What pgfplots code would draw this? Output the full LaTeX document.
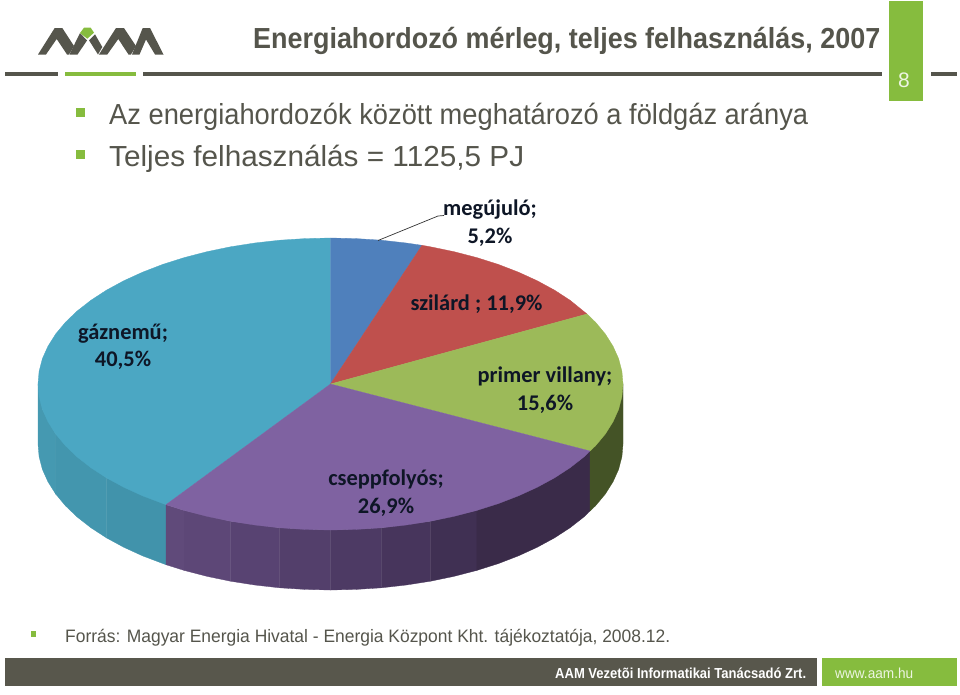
\documentclass[border=0pt]{standalone}
\usepackage{pgfplots}
\pgfplotsset{compat=1.18}
\usepackage{fontspec}
\setmainfont{Liberation Sans}
\newfontfamily\carlito{Carlito}
\definecolor{ink}{HTML}{55554C}
\definecolor{bar}{HTML}{58574C}
\definecolor{lime}{HTML}{86BC3E}
\definecolor{ctop}{HTML}{4BA7C3}
\definecolor{btop}{HTML}{4F80BC}
\definecolor{rtop}{HTML}{BF504D}
\definecolor{gtop}{HTML}{9CBA59}
\definecolor{ptop}{HTML}{7F62A1}
\definecolor{cs1}{HTML}{4599B1}
\definecolor{cs2}{HTML}{4396AE}
\definecolor{cs3}{HTML}{4193AB}
\definecolor{gs}{HTML}{445326}
\definecolor{p1}{HTML}{604A7A}
\definecolor{p2}{HTML}{5D4777}
\definecolor{p3}{HTML}{584372}
\definecolor{p4}{HTML}{533F6B}
\definecolor{p5}{HTML}{4D3A64}
\definecolor{p6}{HTML}{47355C}
\definecolor{p7}{HTML}{403053}
\definecolor{p8}{HTML}{3A2B49}
\definecolor{lab}{HTML}{0E1626}
\newcommand\txt[5]{\node[anchor=base west,inner sep=0pt,text=#4] at (axis cs:#1,#2) {\fontsize{#3}{#3}\selectfont #5};}
\newcommand\lbl[4]{\node[anchor=base,inner sep=0pt,text=lab] at (axis cs:#1,#2) {\carlito\bfseries\fontsize{#3}{#3}\selectfont #4};}
\begin{document}
\begin{tikzpicture}
\begin{axis}[at={(0,0)},anchor=south west,width=960pt,height=694pt,scale only axis,
  xmin=0,xmax=960,ymin=0,ymax=694,y dir=reverse,hide axis,clip=false]
% page background
\addplot[fill=white,draw=none] coordinates {(0,0)(960,0)(960,694)(0,694)} -- cycle;
% header rules
\addplot[fill=ink,draw=none] coordinates {(5,71.5)(58,71.5)(58,76)(5,76)} -- cycle;
\addplot[fill=lime,draw=none] coordinates {(65,71.5)(136,71.5)(136,76)(65,76)} -- cycle;
\addplot[fill=ink,draw=none] coordinates {(143,71.5)(882,71.5)(882,76)(143,76)} -- cycle;
\addplot[fill=ink,draw=none] coordinates {(931,71.5)(957,71.5)(957,76)(931,76)} -- cycle;
\addplot[fill=lime,draw=none] coordinates {(888.7,1)(923.3,1)(923.3,100.5)(888.7,100.5)} -- cycle;
% logo
\addplot[fill=ink,draw=none] coordinates {(38,54.5)(46,54.5)(56.7,39)(67,54.5)(69,54.5)(74,46)(62.3,28)(54.7,28)} -- cycle;
\addplot[fill=ink,draw=none] coordinates {(69.5,54.5)(77.5,54.5)(87,40.5)(80,33)} -- cycle;
\addplot[fill=lime,draw=none] coordinates {(80,33)(84,27.7)(90.7,27.7)(94,32.7)(87.3,38.7)} -- cycle;
\addplot[fill=ink,draw=none] coordinates {(89,40.3)(98,54.5)(102.3,47)(95,34.3)} -- cycle;
\addplot[fill=ink,draw=none] coordinates {(99,54.5)(107.3,54.5)(118.3,39)(128.5,54.5)(131,54.5)(136,46)(124,28)(116,28)} -- cycle;
\addplot[fill=ink,draw=none] coordinates {(132,54.5)(139.5,54.5)(146,39.5)(155,54.5)(163.5,54.5)(150,28)(142.7,28)} -- cycle;
% bullets
\addplot[fill=lime,draw=none] coordinates {(76,108)(85,108)(85,117)(76,117)} -- cycle;
\addplot[fill=lime,draw=none] coordinates {(76,150)(85,150)(85,159)(76,159)} -- cycle;
\addplot[fill=lime,draw=none] coordinates {(31,631)(36,631)(36,637)(31,637)} -- cycle;
% footer bars
\addplot[fill=bar,draw=none] coordinates {(5,658)(817,658)(817,686)(5,686)} -- cycle;
\addplot[fill=lime,draw=none] coordinates {(822,658)(957,658)(957,686)(822,686)} -- cycle;
% pie sides: teal
\addplot[fill=cs1,draw=cs1,line width=.3pt] coordinates {(38,384)(42.4,409.4)(55.6,433.9)(55.6,493.9)(48,481.8)(42.4,469.4)(39.1,456.7)(38,444)} -- cycle;
\addplot[fill=cs2,draw=cs2,line width=.3pt] coordinates {(55.6,433.9)(106.4,477.8)(106.4,537.8)(90.9,527.7)(77.2,517)(65.4,505.7)(55.6,493.9)} -- cycle;
\addplot[fill=cs3,draw=cs3,line width=.3pt] coordinates {(106.4,477.8)(166,504.7)(166,564.7)(142.5,555.8)(123.7,547.2)(106.4,537.8)} -- cycle;
% pie sides: purple
\addplot[fill=p1,draw=p1,line width=.3pt] coordinates {(166,504.7)(184.2,510.4)(184.2,570.4)(166,564.7)} -- cycle;
\addplot[fill=p2,draw=p2,line width=.3pt] coordinates {(184.2,510.4)(230.5,521.2)(230.5,581.2)(206.9,576.3)(184.2,570.4)} -- cycle;
\addplot[fill=p3,draw=p3,line width=.3pt] coordinates {(230.5,521.2)(279.7,527.8)(279.7,587.8)(254.8,585)(230.5,581.2)} -- cycle;
\addplot[fill=p4,draw=p4,line width=.3pt] coordinates {(279.7,527.8)(330.5,530)(330.5,590)(305,589.4)(279.7,587.8)} -- cycle;
\addplot[fill=p5,draw=p5,line width=.3pt] coordinates {(330.5,530)(381.3,527.8)(381.3,587.8)(356,589.4)(330.5,590)} -- cycle;
\addplot[fill=p6,draw=p6,line width=.3pt] coordinates {(381.3,527.8)(430.5,521.2)(430.5,581.2)(406.2,585)(381.3,587.8)} -- cycle;
\addplot[fill=p7,draw=p7,line width=.3pt] coordinates {(430.5,521.2)(476.8,510.4)(476.8,570.4)(454.1,576.3)(430.5,581.2)} -- cycle;
\addplot[fill=p8,draw=p8,line width=.3pt] coordinates {(476.8,510.4)(590,451)(590,511)(583.8,517)(570.1,527.7)(554.6,537.8)(537.3,547.2)(518.5,555.8)(498.3,563.6)(476.8,570.4)} -- cycle;
% pie sides: green
\addplot[fill=gs,draw=gs,line width=.3pt] coordinates {(590,451)(623,384)(623,444)(621.9,456.7)(618.6,469.4)(613,481.8)(605.4,493.9)(595.6,505.7)(590,511)} -- cycle;
% pie top: gaznemu
\addplot[fill=ctop,draw=ctop,line width=.3pt] coordinates {(330.5,384)(166,504.7)(142.5,495.8)(123.7,487.2)(106.4,477.8)(90.9,467.7)(77.2,457)(65.4,445.7)(55.6,433.9)(48,421.8)(42.4,409.4)(39.1,396.7)(38,384)(39.1,371.3)(42.4,358.6)(48,346.2)(55.6,334.1)(65.4,322.3)(77.2,311)(90.9,300.3)(106.4,290.2)(123.7,280.8)(142.5,272.2)(162.7,264.4)(184.2,257.6)(206.9,251.7)(230.5,246.8)(254.8,243)(279.7,240.2)(305,238.6)(330.5,238)} -- cycle;
% pie top: megujulo
\addplot[fill=btop,draw=btop,line width=.3pt] coordinates {(330.5,384)(330.5,238)(356,238.6)(381.3,240.2)(406.2,243)(422,245.3)} -- cycle;
% pie top: szilard
\addplot[fill=rtop,draw=rtop,line width=.3pt] coordinates {(330.5,384)(422,245.3)(430.5,246.8)(454.1,251.7)(476.8,257.6)(498.3,264.4)(518.5,272.2)(537.3,280.8)(554.6,290.2)(570.1,300.3)(587,314)} -- cycle;
% pie top: primer villany
\addplot[fill=gtop,draw=gtop,line width=.3pt] coordinates {(330.5,384)(587,314)(595.6,322.3)(605.4,334.1)(613,346.2)(618.6,358.6)(621.9,371.3)(623,384)(621.9,396.7)(618.6,409.4)(613,421.8)(605.4,433.9)(595.6,445.7)(590,451)} -- cycle;
% pie top: cseppfolyos
\addplot[fill=ptop,draw=ptop,line width=.3pt] coordinates {(330.5,384)(590,451)(583.8,457)(570.1,467.7)(554.6,477.8)(537.3,487.2)(518.5,495.8)(498.3,503.6)(476.8,510.4)(454.1,516.3)(430.5,521.2)(406.2,525)(381.3,527.8)(356,529.4)(330.5,530)(305,529.4)(279.7,527.8)(254.8,525)(230.5,521.2)(206.9,516.3)(184.2,510.4)(166,504.7)} -- cycle;
% leader line
\addplot[draw=black!80,line width=.7pt] coordinates {(378,240.5)(438,216)(444,215.5)};
% texts
\txt{253}{48}{29}{ink}{\bfseries\resizebox{627pt}{\height}{Energiahordozó mérleg, teljes felhasználás, 2007}}
\node[anchor=base,inner sep=0pt,text=white!85!lime] at (axis cs:904,87) {\fontsize{21}{21}\selectfont 8};
\txt{109}{124}{29}{ink}{\resizebox{699pt}{\height}{Az energiahordozók között meghatározó a földgáz aránya}}
\txt{109}{166}{29}{ink}{\resizebox{415pt}{\height}{Teljes felhasználás = 1125,5 PJ}}
\txt{65}{642}{18}{ink}{\resizebox{605pt}{\height}{Forrás: Magyar Energia Hivatal - Energia Központ Kht. tájékoztatója, 2008.12.}}
\txt{555}{678}{14.5}{white}{\bfseries\resizebox{251pt}{\height}{AAM Vezetõi Informatikai Tanácsadó Zrt.}}
\txt{835}{678}{14.5}{white!85!lime}{\resizebox{78pt}{\height}{www.aam.hu}}
\lbl{490}{215.5}{22.4}{megújuló;}
\lbl{490}{243.5}{22.4}{5,2\%}
\lbl{476.5}{310.5}{22.4}{szilárd ; 11,9\%}
\lbl{545}{382.5}{22.4}{primer villany;}
\lbl{545}{410.5}{22.4}{15,6\%}
\lbl{386}{485.5}{22.4}{cseppfolyós;}
\lbl{386}{513.5}{22.4}{26,9\%}
\lbl{123}{339.5}{22.4}{gáznemű;}
\lbl{123}{366.5}{22.4}{40,5\%}
\end{axis}
\end{tikzpicture}
\end{document}
